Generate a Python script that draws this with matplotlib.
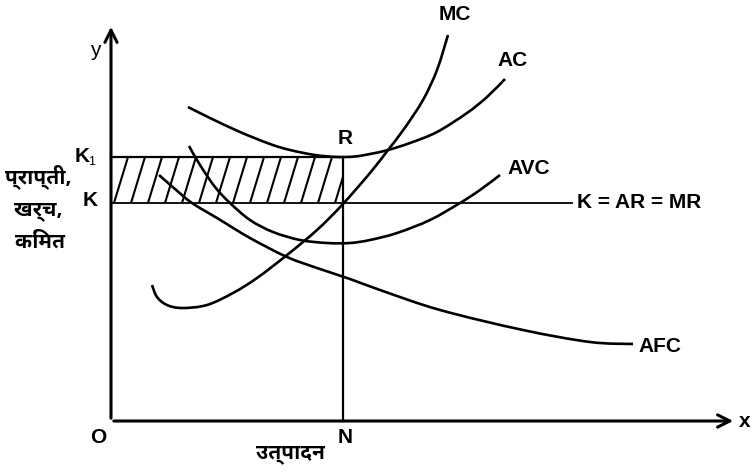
import matplotlib
matplotlib.use("Agg")
import matplotlib.pyplot as plt
from matplotlib import font_manager, ft2font
from matplotlib.patches import Rectangle, PathPatch
from matplotlib.path import Path
import numpy as np

mc_q = [41, 46, 56, 71, 96, 122, 146, 176, 206, 231, 259, 277, 293, 312, 326, 337]
mc_c = [136, 124, 116, 113, 116, 128, 143, 166, 191, 216, 248, 271, 292, 321, 351, 386]

ac_q = [77, 99, 129, 159, 179, 204, 226, 244, 259, 277, 299, 326, 356, 376, 394]
ac_c = [314, 303, 289, 277, 271, 266, 264, 264.5, 267, 271, 278, 289, 308, 324, 342]

avc_q = [78, 89, 104, 119, 139, 162, 189, 216, 239, 259, 286, 319, 349, 369, 389]
avc_c = [275, 256, 234, 218, 201, 189, 181, 178, 178, 181, 188, 201, 218, 231, 246]

afc_q = [48, 64, 81, 106, 139, 176, 206, 239, 269, 329, 412, 479, 522]
afc_c = [246, 232, 218, 203, 183, 164, 153, 142, 131, 111, 91, 79, 77]

K = 218      # price = AR = MR
K1 = 264     # AC at equilibrium
N = 232      # output
price_end = 461

# pick a font that has devanagari glyphs
deva = None
cands = []
for f in font_manager.findSystemFonts():
    try:
        if 0x092A in ft2font.FT2Font(f).get_charmap():
            cands.append(f)
    except Exception:
        pass
for pref in ['NotoSansDevanagariUI-Bold', 'NotoSansDevanagari', 'Mukta', 'Hind', 'Khula-Bold']:
    hits = [f for f in cands if pref in f]
    if hits:
        deva = hits[0]
        break
if deva is None and cands:
    deva = cands[0]
hindi = font_manager.FontProperties(fname=deva) if deva else font_manager.FontProperties(family="DejaVu Sans")

plt.rcParams['font.family'] = ['Liberation Sans', 'DejaVu Sans']


def smooth(ax, q, c, lw):
    # draw a smooth curve through the read points (catmull-rom as bezier)
    p = np.column_stack([q, c]).astype(float)
    verts = [p[0]]
    codes = [Path.MOVETO]
    for i in range(len(p) - 1):
        a = p[i - 1] if i > 0 else p[i]
        d = p[i + 2] if i + 2 < len(p) else p[i + 1]
        verts += [p[i] + (p[i + 1] - a) / 6, p[i + 1] - (d - p[i]) / 6, p[i + 1]]
        codes += [Path.CURVE4] * 3
    ax.add_patch(PathPatch(Path(verts, codes), facecolor='none', edgecolor='black', lw=lw))


fig = plt.figure(figsize=(7.54, 4.73), dpi=100)
ax = fig.add_axes([0, 0, 1, 1])
ax.set_xlim(-111, 643)
ax.set_ylim(-52, 421)
ax.axis('off')

lw = 1.9
# axes with arrows
ax.annotate('', xy=(625, 0), xytext=(0, 0),
            arrowprops=dict(arrowstyle='->', lw=2.2, mutation_scale=22, color='black'))
ax.annotate('', xy=(0, 397), xytext=(0, 0),
            arrowprops=dict(arrowstyle='->', lw=2.2, mutation_scale=22, color='black'))

# hatched supernormal profit area
ax.plot([0, N], [K1, K1], color='black', lw=1.6)
ax.plot([0, price_end], [K, K], color='black', lw=1.3)
ax.plot([N, N], [0, K1], color='black', lw=1.6)
rect = Rectangle((0, K), N, K1 - K, facecolor='none', edgecolor='none')
ax.add_patch(rect)
for x0 in np.arange(-14, N, 17):
    ln, = ax.plot([x0, x0 + 14], [K, K1], color='black', lw=1.5)
    ln.set_clip_path(rect)

smooth(ax, mc_q, mc_c, lw)
smooth(ax, ac_q, ac_c, lw)
smooth(ax, avc_q, avc_c, lw)
smooth(ax, afc_q, afc_c, lw)

fs = 15
bold = dict(fontsize=fs, fontweight='bold', color='black')
ax.text(344, 406, 'MC', ha='center', va='center', **bold)
ax.text(402, 361, 'AC', ha='center', va='center', **bold)
ax.text(418, 253, 'AVC', ha='center', va='center', **bold)
ax.text(527, 74, 'AFC', ha='left', va='center', **bold)
ax.text(466, K, 'K = AR = MR', ha='left', va='center', **bold)
ax.text(N + 2, K1 + 19, 'R', ha='center', va='center', **bold)
ax.text(-29, K1, 'K', ha='center', va='center', **bold)
ax.text(-19, K1 - 5, '1', ha='center', va='center', fontsize=9, color='black')
ax.text(-21, K + 3, 'K', ha='center', va='center', **bold)
ax.text(-16, 371, 'y', ha='center', va='center', fontsize=fs)
ax.text(634, 0, 'x', ha='center', va='center', **bold)
ax.text(-13, -16, 'O', ha='center', va='center', **bold)
ax.text(N + 2, -16, 'N', ha='center', va='center', **bold)

hs = 15
ax.text(179, -34, 'उत्पादन', ha='center', va='center', fontproperties=hindi, fontsize=hs)
ax.text(-73, 244, 'प्राप्ती,', ha='center', va='center', fontproperties=hindi, fontsize=hs)
ax.text(-73, 209, 'खर्च,', ha='center', va='center', fontproperties=hindi, fontsize=hs)
ax.text(-71, 183, 'किंमत', ha='center', va='center', fontproperties=hindi, fontsize=hs)

fig.savefig('out.png', dpi=100)
